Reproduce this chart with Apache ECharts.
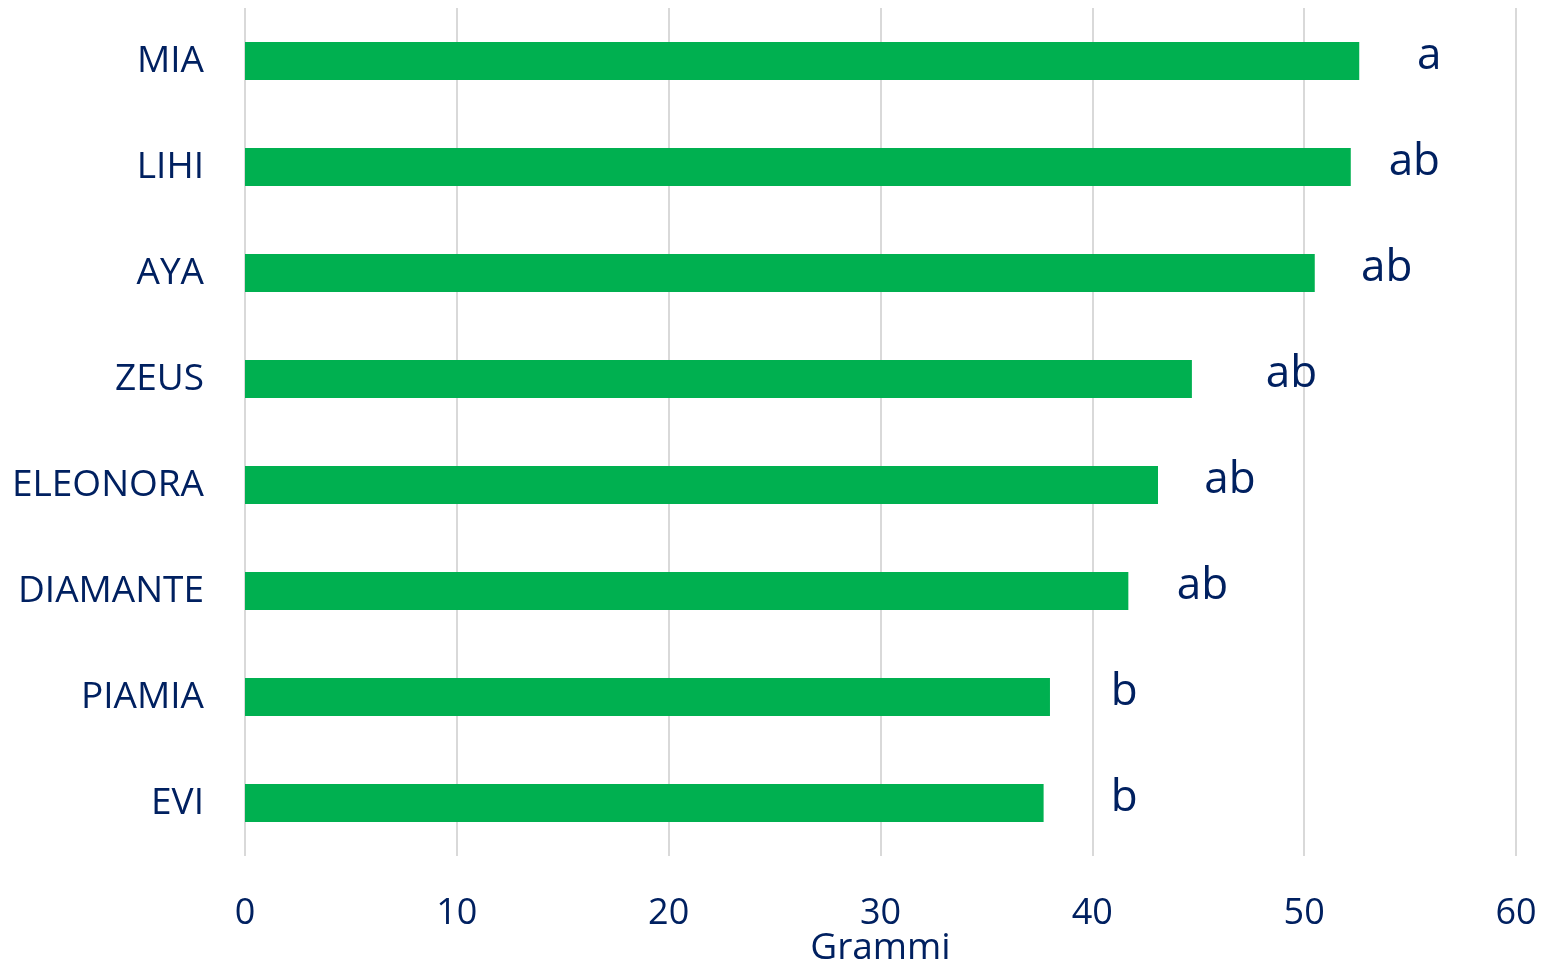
<!DOCTYPE html>
<html><head><meta charset="utf-8">
<script src="https://cdn.jsdelivr.net/npm/echarts@6/dist/echarts.min.js"></script>
<style>html,body{margin:0;padding:0;background:#fff}#c{width:1547px;height:967px}</style>
</head><body><div id="c"></div>
<script>
const categories = ['EVI','PIAMIA','DIAMANTE','ELEONORA','ZEUS','AYA','LIHI','MIA'];
const values = [37.7, 38.0, 41.7, 43.1, 44.7, 50.5, 52.2, 52.6];
const letters = ['b','b','ab','ab','ab','ab','ab','a'];
const letterPos = [41.5, 41.5, 45.2, 46.5, 49.4, 53.9, 55.2, 55.9];
const xTicks = [0,10,20,30,40,50,60];
const navy = '#002060';
const font = 'Open Sans';
const chart = echarts.init(document.getElementById('c'));
chart.setOption({
  animation:false,
  grid:{left:245,right:31,top:8,bottom:111,containLabel:false,outerBoundsMode:'none'},
  xAxis:{type:'value',min:0,max:60,interval:10,
    name:'Grammi',nameLocation:'middle',nameGap:74,nameMoveOverlap:false,
    nameTextStyle:{color:navy,fontFamily:font,fontSize:37},
    axisLabel:{color:navy,fontFamily:font,fontSize:36,margin:40},
    axisLine:{show:false},axisTick:{show:false},
    splitLine:{lineStyle:{color:'#d9d9d9',width:2}}},
  yAxis:{type:'category',data:categories,
    axisLabel:{color:navy,fontFamily:font,fontSize:37,margin:41},
    axisLine:{show:false},axisTick:{show:false}},
  series:[
    {type:'bar',data:values,barWidth:38,itemStyle:{color:'#00b050'}},
    {type:'scatter',symbolSize:0,itemStyle:{opacity:1},
      data:letterPos.map((v,i)=>({value:[v,categories[i]],label:{formatter:letters[i]}})),
      label:{show:true,position:'inside',color:navy,opacity:1,fontFamily:font,fontSize:44,offset:[0,-5]}}
  ]
});
</script></body></html>
